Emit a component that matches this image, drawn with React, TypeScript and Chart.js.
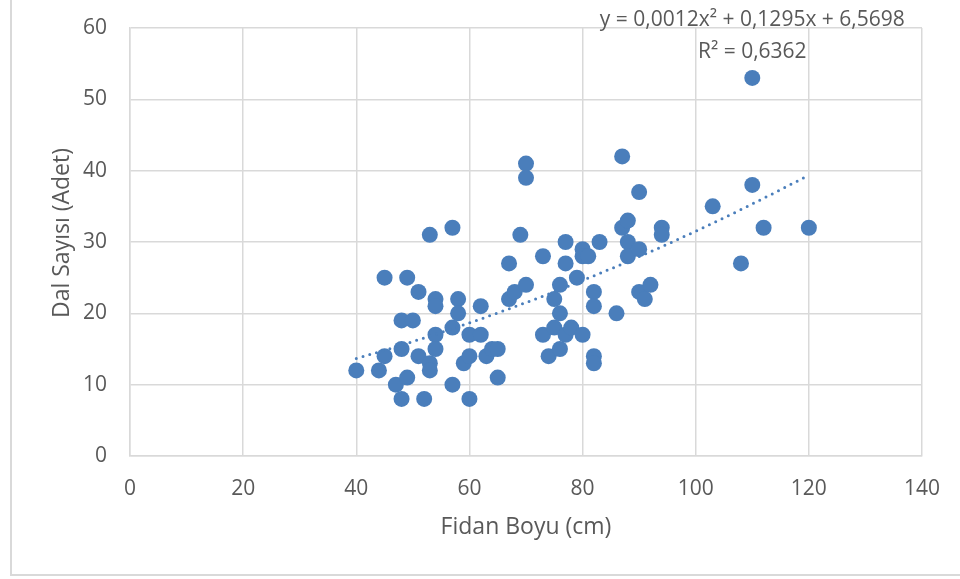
import React, { useEffect, useRef } from "react";
import { Chart, registerables } from "chart.js";

Chart.register(...registerables);

const heights: number[] = [
  40, 44, 45, 45, 47, 48, 48, 48, 49, 49, 50, 51, 51, 52, 53, 53, 53, 54, 54, 54, 54,
  57, 57, 57, 58, 58, 59, 60, 60, 60, 62, 62, 63, 64, 65, 65, 67, 67, 68, 69, 70, 70, 70,
  73, 73, 74, 75, 75, 76, 76, 76, 77, 77, 77, 78, 79, 80, 80, 80, 81, 82, 82, 82, 82, 83,
  86, 87, 87, 88, 88, 88, 90, 90, 90, 91, 92, 94, 94, 103, 108, 110, 110, 112, 120,
];
const branches: number[] = [
  12, 12, 14, 25, 10, 19, 15, 8, 11, 25, 19, 23, 14, 8, 31, 13, 12, 22, 21, 17, 15,
  32, 18, 10, 22, 20, 13, 17, 14, 8, 21, 17, 14, 15, 15, 11, 27, 22, 23, 31, 41, 39, 24,
  28, 17, 14, 22, 18, 24, 20, 15, 30, 27, 17, 18, 25, 29, 28, 17, 28, 23, 21, 14, 13, 30,
  20, 42, 32, 33, 30, 28, 29, 37, 23, 22, 24, 32, 31, 35, 27, 53, 38, 32, 32,
];

// trendline (polynomial, order 2) as given in the chart label
const trendA = 0.0012;
const trendB = 0.1295;
const trendC = 6.5698;
const trendRange: number[] = [40, 120];

const equationText = "y = 0,0012x² + 0,1295x + 6,5698";
const r2Text = "R² = 0,6362";
const xTitle = "Fidan Boyu (cm)";
const yTitle = "Dal Sayısı (Adet)";

const FONT = "'Open Sans', sans-serif";
const TEXT = "#595959";
const BLUE = "#4A7EBB";
const GRID = "#D9D9D9";

export default function App() {
  const ref = useRef<HTMLCanvasElement | null>(null);

  useEffect(() => {
    if (!ref.current) return;
    const pts = heights.map((x, i) => ({ x, y: branches[i] }));
    const trend: { x: number; y: number }[] = [];
    for (let x = trendRange[0]; x <= trendRange[1]; x += 1) {
      trend.push({ x, y: trendA * x * x + trendB * x + trendC });
    }

    const frame = {
      id: "frame",
      beforeDraw(chart: any) {
        const c = chart.ctx;
        c.save();
        c.fillStyle = "#fff";
        c.fillRect(0, 0, chart.width, chart.height);
        c.strokeStyle = GRID;
        c.lineWidth = 2;
        c.beginPath();
        c.moveTo(11, 0);
        c.lineTo(11, 575);
        c.lineTo(chart.width, 575);
        c.stroke();
        c.restore();
      },
      afterDraw(chart: any) {
        const c = chart.ctx;
        const xs = chart.scales.x;
        const { top, bottom } = chart.chartArea;
        const cx = xs.getPixelForValue(110);
        c.save();
        c.fillStyle = TEXT;
        c.font = `21px ${FONT}`;
        c.textAlign = "center";
        c.textBaseline = "middle";
        c.fillText(equationText, cx, top - 8);
        c.fillText(r2Text, cx, top + 24);
        c.font = `23px ${FONT}`;
        c.translate(62, (top + bottom) / 2 - 9);
        c.rotate(-Math.PI / 2);
        c.fillText(yTitle, 0, 0);
        c.restore();
      },
    };

    const chart = new Chart(ref.current, {
      type: "scatter",
      data: {
        datasets: [
          {
            type: "line",
            data: trend,
            borderColor: BLUE,
            borderWidth: 3,
            borderDash: [0, 7],
            borderCapStyle: "round",
            pointRadius: 0,
            fill: false,
            tension: 0,
          } as any,
          {
            data: pts,
            backgroundColor: BLUE,
            borderColor: BLUE,
            pointRadius: 8,
            borderWidth: 0,
          },
        ],
      },
      options: {
        animation: false,
        responsive: false,
        layout: { padding: { top: 28, right: 38, left: 0, bottom: 0 } },
        plugins: { legend: { display: false }, tooltip: { enabled: false } },
        scales: {
          x: {
            type: "linear",
            min: 0,
            max: 140,
            ticks: { stepSize: 20, color: TEXT, font: { family: FONT, size: 21 }, padding: 20 },
            grid: { color: GRID, lineWidth: 1.5, drawTicks: false },
            border: { color: GRID, width: 1.5 },
            title: {
              display: true,
              text: xTitle,
              color: TEXT,
              font: { family: FONT, size: 23 },
              padding: { top: 0, bottom: 38 },
            },
            afterFit(s: any) {
              s.height = 123;
              s.paddingLeft = 0;
              s.paddingRight = 0;
            },
          },
          y: {
            type: "linear",
            min: 0,
            max: 60,
            ticks: { stepSize: 10, color: TEXT, font: { family: FONT, size: 21 }, padding: 23 },
            grid: { color: GRID, lineWidth: 1.5, drawTicks: false },
            border: { color: GRID, width: 1.5 },
            title: { display: false, text: yTitle },
            afterFit(s: any) {
              s.width = 130;
              s.paddingTop = 0;
              s.paddingBottom = 0;
            },
          },
        },
      },
      plugins: [frame],
    } as any);
    return () => chart.destroy();
  }, []);

  return (
    <div style={{ position: "fixed", left: 0, top: 0, width: 960, height: 579, background: "#fff" }}>
      <canvas ref={ref} width={960} height={579} />
    </div>
  );
}
